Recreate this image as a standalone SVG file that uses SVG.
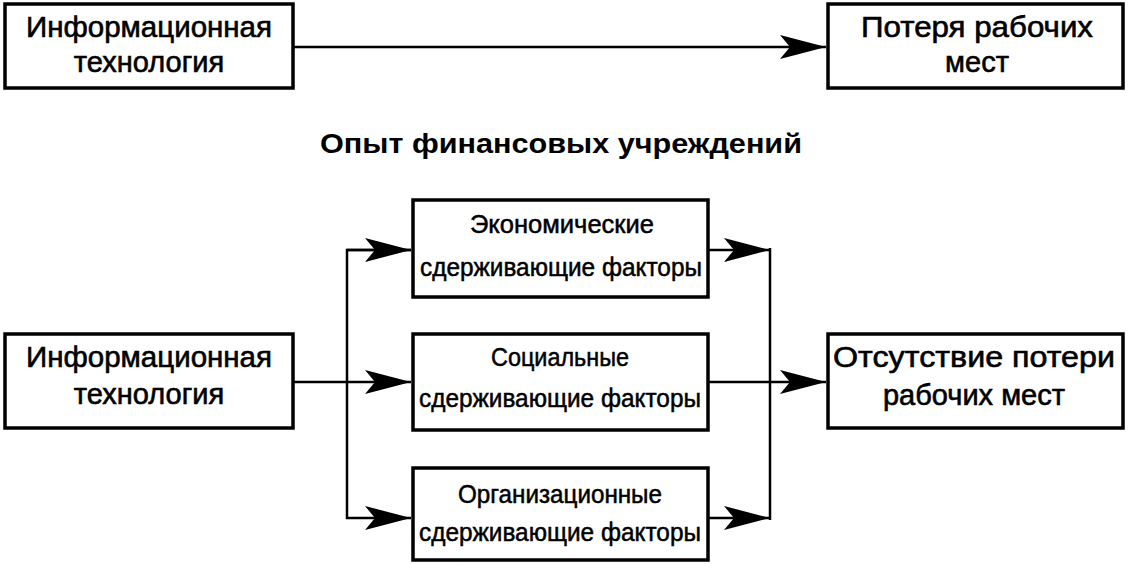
<svg xmlns="http://www.w3.org/2000/svg" width="1128" height="564" viewBox="0 0 1128 564">
<style>
.box{fill:#fff;stroke:#000;stroke-width:3.5}
.t{font-family:"Liberation Sans",Arial,sans-serif;font-size:29px;fill:#000;stroke:#000;stroke-width:0.6;text-anchor:middle}
.n{font-family:"Liberation Sans",Arial,sans-serif;font-size:25px;fill:#000;stroke:#000;stroke-width:0.5;text-anchor:middle}
.c{fill:none;stroke:#000;stroke-width:2.5}
.title{font-family:"Liberation Sans",Arial,sans-serif;font-size:27px;font-weight:bold;fill:#000;text-anchor:middle}
</style>
<defs>
<marker id="ah" markerUnits="userSpaceOnUse" markerWidth="48" markerHeight="26" refX="46" refY="12" orient="auto">
<path d="M0,0 L46,12 L0,24 L10,12 Z" fill="#000"/>
</marker>
</defs>
<g id="connectors">
<line class="c" x1="294" y1="47" x2="826" y2="47" marker-end="url(#ah)"/>
<line class="c" x1="294" y1="382" x2="411" y2="382" marker-end="url(#ah)"/>
<polyline class="c" points="411,250 347,250 347,518 411,518" marker-end="url(#ah)"/>
<line class="c" x1="347" y1="250" x2="411" y2="250" marker-end="url(#ah)"/>
<line class="c" x1="708" y1="250" x2="770" y2="250" marker-end="url(#ah)"/>
<line class="c" x1="708" y1="518" x2="770" y2="518" marker-end="url(#ah)"/>
<line class="c" x1="770" y1="248" x2="770" y2="520"/>
<line class="c" x1="708" y1="382" x2="826" y2="382" marker-end="url(#ah)"/>
</g>
<g id="it-top">
<rect class="box" x="5" y="4" width="288" height="84"/>
<text class="t" x="149" y="37" textLength="246" lengthAdjust="spacingAndGlyphs">Информационная</text>
<text class="t" x="149" y="72">технология</text>
</g>
<g id="loss">
<rect class="box" x="828" y="4" width="295" height="84"/>
<text class="t" x="977" y="37" textLength="232" lengthAdjust="spacingAndGlyphs">Потеря рабочих</text>
<text class="t" x="977" y="72">мест</text>
</g>
<text id="title" class="title" x="561" y="153" textLength="482" lengthAdjust="spacingAndGlyphs">Опыт финансовых учреждений</text>
<g id="it-bottom">
<rect class="box" x="5" y="334" width="288" height="94"/>
<text class="t" x="149" y="367" textLength="246" lengthAdjust="spacingAndGlyphs">Информационная</text>
<text class="t" x="149" y="404">технология</text>
</g>
<g id="econ">
<rect class="box" x="413" y="200" width="295" height="97"/>
<text class="n" x="562" y="233" textLength="184" lengthAdjust="spacingAndGlyphs">Экономические</text>
<text class="n" x="561" y="276" textLength="282" lengthAdjust="spacingAndGlyphs">сдерживающие факторы</text>
</g>
<g id="social">
<rect class="box" x="413" y="334" width="295" height="96"/>
<text class="n" x="560" y="366" textLength="138" lengthAdjust="spacingAndGlyphs">Социальные</text>
<text class="n" x="560" y="407" textLength="282" lengthAdjust="spacingAndGlyphs">сдерживающие факторы</text>
</g>
<g id="org">
<rect class="box" x="413" y="468" width="295" height="92"/>
<text class="n" x="560" y="503" textLength="204" lengthAdjust="spacingAndGlyphs">Организационные</text>
<text class="n" x="560" y="541" textLength="282" lengthAdjust="spacingAndGlyphs">сдерживающие факторы</text>
</g>
<g id="no-loss">
<rect class="box" x="828" y="334" width="295" height="94"/>
<text class="t" x="974" y="367" textLength="282" lengthAdjust="spacingAndGlyphs">Отсутствие потери</text>
<text class="t" x="974" y="405">рабочих мест</text>
</g>
</svg>
